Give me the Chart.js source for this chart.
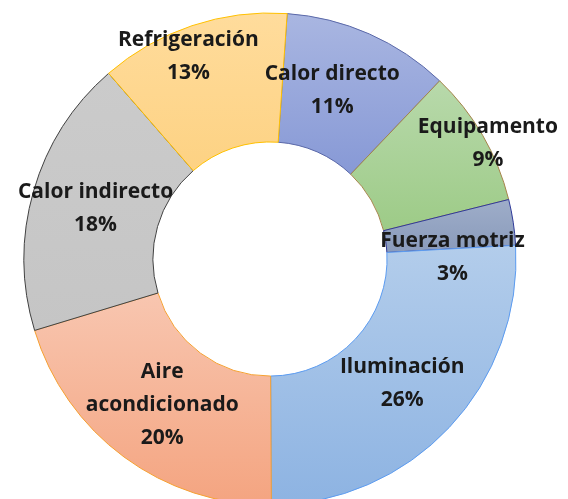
<!DOCTYPE html>
<html>
<head>
<meta charset="utf-8">
<script src="https://cdn.jsdelivr.net/npm/chart.js@4"></script>
<style>
  html, body { margin: 0; padding: 0; background: #fff; overflow: hidden; }
  #wrap { position: absolute; left: 0; top: 0; width: 568px; height: 518px; }
</style>
</head>
<body>
<div id="wrap"><canvas id="consumo" width="568" height="518"></canvas></div>
<script>
// data (percent of energy use)
const categories = ['Calor directo', 'Equipamento', 'Fuerza motriz', 'Iluminación', 'Aire acondicionado', 'Calor indirecto', 'Refrigeración'];
const shares = [11, 9, 3, 25.8, 20.4, 18.3, 12.5];

// label text lines, split where the picture wraps them
const labelLines = [['Calor directo'], ['Equipamento'], ['Fuerza motriz'], ['Iluminación'], ['Aire', 'acondicionado'], ['Calor indirecto'], ['Refrigeración']];

// gradient top/bottom colours and outline per slice
const topColors = ['#a9b6e1', '#b8d9ab', '#9eadc9', '#b3cdeb', '#f8c6b0', '#cbcbcb', '#ffdc9c'];
const bottomColors = ['#8799d6', '#9dcb87', '#8a9bbb', '#8db3e2', '#f4a480', '#c5c5c5', '#fdd283'];
const edgeColors = ['#5a68a8', '#a5834a', '#2f3a99', '#5b9bf0', '#f5a030', '#404040', '#ffc000'];

// labels that were dragged away from the ring centre in the original
const labelShift = [[-11, -2], [61, -24], [3, 26], [0, 0], [0, 0], [0, 0], [-24, -30]];

function arcBoundsY(el) {
  const { y, startAngle, endAngle, innerRadius, outerRadius } = el.getProps(['y', 'startAngle', 'endAngle', 'innerRadius', 'outerRadius']);
  const ys = [];
  [startAngle, endAngle].forEach(a => {
    ys.push(y + Math.sin(a) * innerRadius, y + Math.sin(a) * outerRadius);
  });
  for (let k = -2; k <= 3; k++) {
    const up = -Math.PI / 2 + 2 * Math.PI * k;
    const down = Math.PI / 2 + 2 * Math.PI * k;
    if (up > startAngle && up < endAngle) ys.push(y - outerRadius);
    if (down > startAngle && down < endAngle) ys.push(y + outerRadius);
  }
  return [Math.min(...ys), Math.max(...ys)];
}

const sliceGradient = {
  id: 'sliceGradient',
  beforeDatasetsDraw(chart) {
    const ctx = chart.ctx;
    chart.getDatasetMeta(0).data.forEach((el, i) => {
      const [y0, y1] = arcBoundsY(el);
      const g = ctx.createLinearGradient(0, y0, 0, y1);
      g.addColorStop(0, topColors[i]);
      g.addColorStop(1, bottomColors[i]);
      el.options.backgroundColor = g;
    });
  }
};

const sliceLabels = {
  id: 'sliceLabels',
  afterDatasetsDraw(chart) {
    const ctx = chart.ctx;
    const lineH = 33;
    ctx.save();
    ctx.font = 'bold 21px "Open Sans", Lato, sans-serif';
    ctx.fillStyle = '#1a1a1a';
    ctx.textAlign = 'center';
    ctx.textBaseline = 'middle';
    chart.getDatasetMeta(0).data.forEach((el, i) => {
      const c = el.getCenterPoint();
      const lines = labelLines[i].concat([Math.round(shares[i]) + '%']);
      const cx = c.x + labelShift[i][0];
      const cy = c.y + labelShift[i][1] - (lines.length - 1) * lineH / 2;
      lines.forEach((t, j) => ctx.fillText(t, cx, cy + j * lineH));
    });
    ctx.restore();
  }
};

new Chart(document.getElementById('consumo').getContext('2d'), {
  type: 'doughnut',
  data: {
    labels: categories,
    datasets: [{
      data: shares,
      backgroundColor: topColors,
      borderColor: edgeColors,
      borderWidth: 1
    }]
  },
  options: {
    responsive: false,
    animation: false,
    rotation: 4,
    radius: 246,
    cutout: 123,
    layout: { padding: { left: 0, right: 28, top: 0, bottom: 0 } },
    plugins: {
      legend: { display: false },
      tooltip: { enabled: false }
    }
  },
  plugins: [sliceGradient, sliceLabels]
});
</script>
</body>
</html>
